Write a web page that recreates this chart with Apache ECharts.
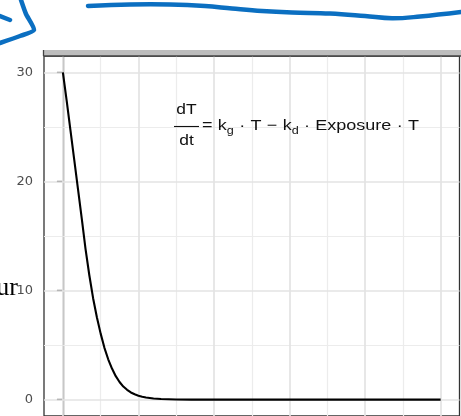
<!DOCTYPE html>
<html>
<head>
<meta charset="utf-8">
<script src="https://cdn.jsdelivr.net/npm/echarts@6/dist/echarts.min.js"></script>
<style>html,body{margin:0;padding:0;background:#fff;}#c{width:461px;height:416px;}</style>
</head>
<body>
<div id="c"></div>
<script>
// time values and tumour size
const timeVals = [0,1,2,3,4,5,6,7,8,9,10,11,12,13,14,15,16,17,18,19,20,21,22,24,26,28,30,34,40,50,60,70,80,90,100];
const sizeVals = [30,27.4,24.7,22.0,19.3,16.6,13.8,11.4,9.3,7.55,6.05,4.75,3.7,2.85,2.15,1.62,1.2,0.9,0.66,0.49,0.36,0.27,0.2,0.11,0.06,0.03,0.015,0.004,0,0,0,0,0,0,0];
const yTicks = [0,10,20,30];
const yMinor = [5,15,25];
const xMajor = [0,20,40,60,80,100];
const xMinor = [10,30,50,70,90];
// equation pieces: text, subscript flag ('gap' = spacing)
const eqPieces = [['=',0],'gap',['k',0],['g',1],'gap',['\u00b7',0],'gap',['T',0],'gap',['\u2212',0],'gap',['k',0],['d',1],'gap',['\u00b7',0],'gap',['Exposure',0],'gap',['\u00b7',0],'gap',['T',0]];

const chart = echarts.init(document.getElementById('c'), null, {renderer:'canvas'});
const F = 'Liberation Sans';
const S = 1.2;
const MAIN = 15, SUB = 10.5, BASE = 131, SUBBASE = 134.5;
const ctx = document.createElement('canvas').getContext('2d');
function w(txt, size){ ctx.font = size + 'px "' + F + '"'; return ctx.measureText(txt).width * S; }
function tb(txt, x, base, size, align){
  return {type:'text', x:x, y:base - 0.35*size, scaleX:S, z:50,
    style:{text:txt, x:0, y:0, fill:'#111', font:size+'px "'+F+'"', textAlign:align||'left', verticalAlign:'middle', textVerticalAlign:'middle'}};
}
// layout the right-hand side between x0 and x1
const x0 = 202, x1 = 419;
let total = 0, gaps = 0;
eqPieces.forEach(p => { if (p === 'gap') gaps++; else total += w(p[0], p[1] ? SUB : MAIN); });
const gap = (x1 - x0 - total) / gaps;
const eqEls = [];
let cx = x0;
eqPieces.forEach(p => {
  if (p === 'gap') { cx += gap; return; }
  const sz = p[1] ? SUB : MAIN;
  eqEls.push(tb(p[0], cx, p[1] ? SUBBASE : BASE, sz));
  cx += w(p[0], sz);
});

const blue = '#0b6fc1';
chart.setOption({
  animation:false,
  backgroundColor:'#fff',
  grid:{left:44, top:56, width:415.5, height:363, show:true, borderColor:'#333', borderWidth:1.3, backgroundColor:'#fff'},
  xAxis:{type:'value', min:-5, max:105, axisLine:{show:false}, axisTick:{show:false}, axisLabel:{show:false}, splitLine:{show:false}},
  yAxis:{type:'value', min:-1.5, max:31.5,
    axisLine:{show:true, lineStyle:{color:'#333', width:1.3}},
    axisTick:{show:true, length:6, customValues:yTicks, lineStyle:{color:'#333', width:1.3}},
    axisLabel:{customValues:yTicks, margin:11, color:'#4d4d4d', fontFamily:'DejaVu Sans', fontSize:13},
    splitLine:{show:false}},
  series:[
    {type:'line', data:[], z:1, silent:true,
      markLine:{silent:true, symbol:'none', label:{show:false}, animation:false,
        lineStyle:{color:'#ececec', width:1.2, type:'solid'},
        data: yMinor.map(v=>({yAxis:v})).concat(xMinor.map(v=>({xAxis:v})))}},
    {type:'line', data:[], z:2, silent:true,
      markLine:{silent:true, symbol:'none', label:{show:false}, animation:false,
        lineStyle:{color:'#e3e3e3', width:1.7, type:'solid'},
        data: yTicks.map(v=>({yAxis:v})).concat(xMajor.map(v=>({xAxis:v})))}},
    {type:'line', z:5, showSymbol:false, smooth:false,
      lineStyle:{color:'#000', width:2.1, join:'round'},
      data: timeVals.map((x,i)=>[x, sizeVals[i]])}
  ],
  graphic:[
    {type:'rect', shape:{x:43.5, y:50, width:417.5, height:6}, style:{fill:'#bdbdbd', stroke:null}, z:40},
    {type:'line', shape:{x1:43.5, y1:56, x2:461, y2:56}, style:{stroke:'#444', lineWidth:1.3}, z:41},
    {type:'line', shape:{x1:43.5, y1:50, x2:43.5, y2:56}, style:{stroke:'#444', lineWidth:1.3}, z:41},
    // equation: fraction
    tb('dT', 186.5, 115.5, 14.5, 'center'),
    {type:'line', shape:{x1:174, y1:126.5, x2:199, y2:126.5}, style:{stroke:'#111', lineWidth:1.1}, z:50},
    tb('dt', 186.5, 146.5, 14.5, 'center')
  ].concat(eqEls).concat([
    // stray text from page
    {type:'text', x:18, y:296.7 - 0.34*26, z:60, style:{text:'ur', fill:'#000', font:'26px "Liberation Serif"', textAlign:'right', verticalAlign:'middle', textVerticalAlign:'middle'}},
    // blue hand strokes
    {type:'polyline', z:70, shape:{points:[[88,6],[130,4.5],[170,4.5],[205,6],[232,8.5],[262,11],[292,12.5],[330,13.5],[365,16],[392,18.3],[420,16.5],[461,12]], smooth:0.4},
      style:{stroke:blue, lineWidth:4.5, lineCap:'round', lineJoin:'round', fill:null}},
    {type:'polyline', z:70, shape:{points:[[21,0],[26,14],[34,30],[20,36],[0,43]], smooth:0.2},
      style:{stroke:blue, lineWidth:4.5, lineCap:'round', lineJoin:'round', fill:null}},
    {type:'polyline', z:70, shape:{points:[[0,16],[10,20]]},
      style:{stroke:blue, lineWidth:4.5, lineCap:'round', fill:null}}
  ])
});
</script>
</body>
</html>
